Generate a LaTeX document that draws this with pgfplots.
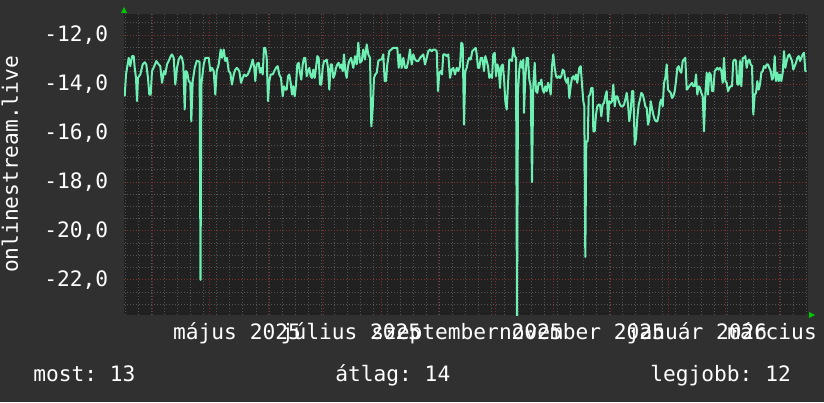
\documentclass[border=0pt]{standalone}
\usepackage{fontspec}
\setmainfont{DejaVu Sans Mono}
\usepackage{pgfplots}
\pgfplotsset{compat=1.18}
\usepackage{pgfplotstable}
\definecolor{outerbg}{RGB}{48,48,48}
\definecolor{plotbg}{RGB}{33,33,33}
\definecolor{minorgrid}{RGB}{84,84,84}
\definecolor{majorgrid}{RGB}{125,48,48}
\definecolor{lineclr}{RGB}{110,240,180}
\definecolor{arrowgreen}{RGB}{0,200,0}
\newcommand\ff{\fontsize{10.6}{12.7}\selectfont\frenchspacing}

\pgfplotstableread{
x y
124.7 -14.50
126.0 -13.61
128.7 -12.93
130.3 -13.27
132.0 -12.86
133.7 -12.86
134.7 -13.34
136.0 -13.75
137.0 -14.70
138.0 -13.75
140.3 -13.61
142.7 -13.20
144.7 -13.11
146.3 -13.20
148.0 -13.75
149.3 -14.43
150.7 -14.43
152.0 -13.47
154.3 -13.27
156.3 -13.06
158.7 -13.20
160.3 -13.27
162.0 -13.95
164.0 -13.47
165.3 -13.61
167.0 -13.20
168.7 -13.06
170.7 -12.86
172.0 -12.79
173.7 -12.93
175.3 -14.02
177.0 -13.34
178.7 -13.00
180.7 -12.86
182.0 -12.93
183.3 -13.20
184.7 -15.04
186.0 -13.47
187.3 -13.54
188.7 -13.88
190.3 -13.95
191.3 -15.52
192.7 -13.88
194.7 -13.34
196.7 -13.06
198.0 -13.06
199.6 -13.10
200.5 -22.00
201.4 -14.00
203.7 -13.20
205.3 -12.93
207.0 -12.93
208.7 -12.93
210.3 -13.47
212.0 -13.34
213.7 -13.47
215.3 -14.43
216.7 -13.47
218.7 -13.20
220.7 -12.59
222.0 -12.93
223.7 -12.59
225.3 -13.06
227.0 -12.93
228.7 -13.47
230.3 -13.54
232.0 -14.02
233.7 -13.61
235.3 -13.41
237.0 -13.34
239.3 -13.47
241.0 -13.95
242.7 -13.75
244.3 -13.61
246.0 -13.68
247.7 -13.61
249.3 -13.47
251.0 -13.27
252.7 -13.00
254.3 -13.34
255.3 -13.88
256.7 -13.20
258.7 -13.13
260.0 -13.54
261.3 -13.34
262.7 -13.61
264.0 -12.52
265.3 -12.52
266.7 -12.93
268.0 -14.70
269.3 -13.88
270.7 -13.61
272.7 -13.61
274.3 -13.47
276.0 -13.34
277.7 -13.27
279.3 -13.61
281.0 -13.75
282.7 -14.50
284.0 -14.09
285.3 -14.23
286.7 -14.23
288.0 -13.68
289.3 -13.61
290.7 -13.95
292.0 -14.43
293.3 -14.09
294.7 -14.50
296.0 -14.02
297.3 -13.20
298.7 -13.13
300.0 -13.54
301.3 -13.82
302.7 -13.20
304.0 -12.93
305.3 -12.93
306.7 -13.68
308.0 -13.47
309.3 -13.34
310.7 -13.68
312.0 -13.75
313.3 -13.41
314.7 -13.75
316.0 -13.34
317.3 -12.86
318.7 -12.93
320.0 -14.02
321.3 -14.02
322.7 -13.34
324.0 -13.06
325.3 -13.06
326.7 -13.00
328.0 -13.34
329.3 -14.23
330.7 -13.20
332.0 -13.20
333.3 -13.75
334.7 -13.61
336.0 -13.34
337.3 -13.20
338.7 -13.13
340.0 -13.34
341.3 -13.20
342.7 -13.47
344.0 -12.79
345.3 -13.47
346.7 -13.75
348.0 -13.27
349.3 -13.06
351.0 -12.93
353.3 -13.34
355.0 -12.86
356.7 -13.20
358.3 -12.31
360.0 -13.13
361.7 -13.06
363.3 -12.59
365.0 -13.00
366.7 -12.38
368.3 -12.79
370.0 -12.93
371.3 -15.73
372.7 -14.98
374.0 -13.75
375.3 -13.61
376.7 -13.54
378.3 -13.06
380.0 -13.00
381.7 -13.00
383.3 -12.79
384.7 -13.88
386.0 -13.88
387.3 -13.20
389.3 -12.66
391.3 -12.59
393.3 -12.52
395.3 -12.52
397.3 -12.52
398.7 -13.34
400.0 -12.79
401.7 -13.34
403.3 -12.93
405.0 -13.34
406.7 -13.34
408.3 -13.06
410.0 -12.59
411.7 -13.20
413.3 -12.79
415.0 -13.00
416.7 -13.06
418.3 -13.06
420.0 -12.93
421.7 -12.86
423.3 -12.79
425.0 -13.20
426.7 -12.93
428.3 -12.66
430.0 -12.59
431.7 -12.66
433.3 -12.59
435.0 -12.59
436.7 -12.66
438.0 -14.29
439.3 -13.54
440.7 -13.47
442.0 -13.61
443.3 -12.79
445.0 -12.79
446.7 -12.86
448.3 -12.79
450.0 -13.75
451.7 -13.41
453.3 -13.34
455.0 -13.61
456.7 -13.34
458.3 -13.47
460.0 -13.27
461.3 -12.31
462.7 -12.38
464.0 -15.66
465.3 -13.47
466.7 -13.34
468.0 -13.06
469.3 -12.93
470.7 -13.00
472.3 -12.66
474.0 -12.59
475.7 -12.52
476.7 -12.79
478.0 -13.34
479.3 -13.34
480.7 -12.93
482.3 -12.93
484.0 -13.47
485.3 -12.86
486.7 -13.06
488.0 -13.27
489.3 -13.75
490.7 -13.61
492.0 -13.75
493.3 -12.79
494.7 -12.72
496.0 -13.68
497.3 -13.20
498.7 -13.34
500.0 -14.16
501.3 -13.27
502.7 -13.20
504.0 -13.75
505.3 -14.70
506.7 -15.04
508.0 -14.02
509.3 -13.00
510.7 -13.00
512.0 -13.06
513.3 -12.52
514.7 -12.86
516.0 -12.93
517.0 -23.50
518.0 -14.29
519.3 -13.41
520.7 -13.06
522.0 -13.34
523.3 -13.00
524.0 -15.18
525.3 -13.75
526.7 -12.93
528.0 -12.93
529.3 -13.82
530.7 -14.09
532.0 -18.00
533.3 -14.02
534.7 -13.13
536.0 -14.29
537.3 -14.36
538.7 -13.95
540.0 -14.02
541.3 -13.82
542.7 -14.23
544.0 -14.36
545.3 -14.09
546.7 -14.29
548.0 -13.95
549.3 -14.09
550.7 -14.43
552.0 -13.27
553.3 -12.79
554.7 -13.34
556.0 -13.68
557.3 -13.75
558.7 -13.68
560.0 -13.75
561.3 -13.68
562.7 -13.41
564.0 -13.47
565.3 -13.82
566.7 -13.95
568.0 -13.75
569.3 -14.57
570.7 -14.09
572.0 -13.75
573.3 -13.68
574.7 -13.82
576.0 -13.61
577.3 -13.95
579.3 -13.34
580.7 -13.27
582.0 -14.02
583.3 -14.70
584.3 -14.90
585.3 -21.06
586.3 -16.34
587.7 -16.34
588.7 -14.50
590.0 -14.43
591.3 -14.16
592.7 -14.16
593.3 -15.93
594.7 -15.93
596.0 -15.25
597.3 -14.91
598.7 -14.84
600.0 -14.84
601.3 -15.32
602.7 -14.84
604.0 -14.77
605.3 -14.50
606.7 -14.29
608.0 -15.52
609.3 -14.70
610.7 -14.77
612.0 -14.70
613.3 -14.02
614.7 -14.91
616.0 -14.50
617.3 -14.50
618.7 -14.70
620.0 -14.84
621.3 -14.91
622.7 -14.91
624.0 -14.84
625.3 -14.63
626.7 -14.36
628.0 -14.84
629.3 -15.52
630.7 -15.11
632.0 -14.29
633.3 -14.29
634.7 -16.48
636.0 -16.21
637.3 -15.39
638.7 -14.84
640.0 -14.63
641.3 -14.36
642.7 -14.43
644.0 -14.63
645.3 -14.91
646.7 -14.98
648.0 -15.66
649.3 -15.45
650.7 -14.70
652.0 -14.98
653.3 -15.25
654.7 -15.45
656.0 -15.52
657.3 -15.52
658.7 -15.25
660.0 -14.77
661.3 -14.63
662.7 -14.91
664.0 -13.95
665.3 -13.75
666.7 -13.20
668.0 -14.23
669.3 -14.29
670.7 -14.36
672.0 -14.57
673.3 -14.50
674.7 -14.29
676.0 -13.88
677.3 -13.34
678.7 -13.27
680.0 -13.47
681.3 -13.54
682.7 -13.06
684.0 -13.00
685.3 -12.93
686.7 -14.23
688.0 -14.16
689.3 -14.09
690.7 -14.02
692.0 -13.95
693.3 -14.09
694.7 -14.09
696.0 -13.61
697.3 -14.43
698.7 -14.09
700.0 -14.16
701.3 -14.36
702.7 -14.50
704.0 -15.93
705.3 -14.43
706.7 -13.54
708.0 -14.43
709.3 -13.54
710.7 -13.61
712.0 -14.29
713.3 -14.29
714.7 -13.47
716.0 -13.41
717.3 -13.34
718.7 -13.41
720.0 -13.34
721.3 -13.47
722.7 -13.95
724.0 -12.93
725.3 -13.88
726.7 -13.95
728.0 -14.29
729.3 -14.16
730.7 -14.09
732.0 -14.09
733.3 -13.06
734.7 -13.00
736.0 -13.06
737.3 -14.02
738.7 -14.02
740.0 -13.06
741.3 -14.09
742.7 -12.93
744.0 -12.93
745.3 -12.86
746.7 -13.34
748.0 -13.06
749.3 -13.00
750.7 -13.20
752.0 -13.27
753.3 -15.25
754.7 -14.43
756.0 -14.36
757.3 -13.88
758.7 -14.23
760.0 -14.02
761.3 -13.54
762.7 -13.47
764.0 -13.27
765.3 -13.34
766.7 -13.20
768.0 -13.20
769.3 -13.34
770.7 -13.47
772.0 -13.82
773.3 -13.75
774.7 -12.86
776.0 -13.88
777.3 -13.54
778.7 -13.88
780.0 -13.61
781.3 -13.88
782.7 -13.54
784.0 -12.66
785.3 -13.34
786.7 -13.06
788.0 -12.86
789.3 -12.79
790.7 -12.93
792.0 -13.06
793.3 -13.41
794.7 -13.27
796.0 -13.13
797.3 -12.93
798.7 -12.86
800.0 -13.06
801.3 -12.93
802.7 -12.79
804.0 -12.72
805.3 -13.47
806.7 -13.47
}\datatable

\begin{document}
\begin{tikzpicture}
\useasboundingbox (0,0) rectangle (412pt,201pt);
\fill[outerbg] (0,0) rectangle (412pt,201pt);
\begin{axis}[
  at={(62pt,43.5pt)}, anchor=south west,
  scale only axis, width=342pt, height=150.5pt,
  xmin=124, xmax=808, ymin=-23.43, ymax=-11.14,
  axis background/.style={fill=plotbg},
  axis line style={draw=none},
  xtick={152,209,268,323,381,438,495,553,610,668,725,779},
  xticklabels={},
  minor xtick={125,138.1,...,808},
  ytick={-22,-20,-18,-16,-14,-12},
  yticklabels={{-22,0},{-20,0},{-18,0},{-16,0},{-14,0},{-12,0}},
  minor ytick={-23,-22.5,-21.5,-21,-20.5,-19.5,-19,-18.5,-17.5,-17,-16.5,-15.5,-15,-14.5,-13.5,-13,-12.5,-11.5},
  major tick length=0pt, minor tick length=0pt,
  grid=both,
  major grid style={majorgrid, line width=0.5pt, dash pattern=on 0.5pt off 1pt},
  minor grid style={minorgrid, line width=0.5pt, dash pattern=on 0.5pt off 1pt},
  yticklabel style={font=\ff, text=white, anchor=east, inner sep=0pt, xshift=-7.75pt},
  extra x ticks={237,351,467,582,697,804},
  extra x tick labels={május 2025,július 2025,szeptember 2025,november 2025,január 2026,március 2026},
  extra x tick style={grid=none, major tick length=0pt,
    xticklabel style={font=\ff, text=white, anchor=base, inner sep=0pt, yshift=-12pt}},
]
\addplot[lineclr, line width=1pt, line join=round] table[x=x,y=y]{\datatable};
\end{axis}
\fill[arrowgreen] (60.5pt,194.5pt) -- (63.5pt,194.5pt) -- (62pt,197.5pt) -- cycle;
\fill[arrowgreen] (404.5pt,45pt) -- (404.5pt,42pt) -- (407.5pt,43.5pt) -- cycle;
\node[rotate=90, anchor=base, font=\ff, text=white, inner sep=0pt] at (9pt,118.75pt) {onlinestream.live};
\node[anchor=base west, inner sep=0pt, font=\ff, text=white] at (16.5pt,10.5pt) {most: 13};
\node[anchor=base west, inner sep=0pt, font=\ff, text=white] at (167.5pt,10.5pt) {átlag: 14};
\node[anchor=base west, inner sep=0pt, font=\ff, text=white] at (325pt,10.5pt) {legjobb: 12};
\end{tikzpicture}
\end{document}
